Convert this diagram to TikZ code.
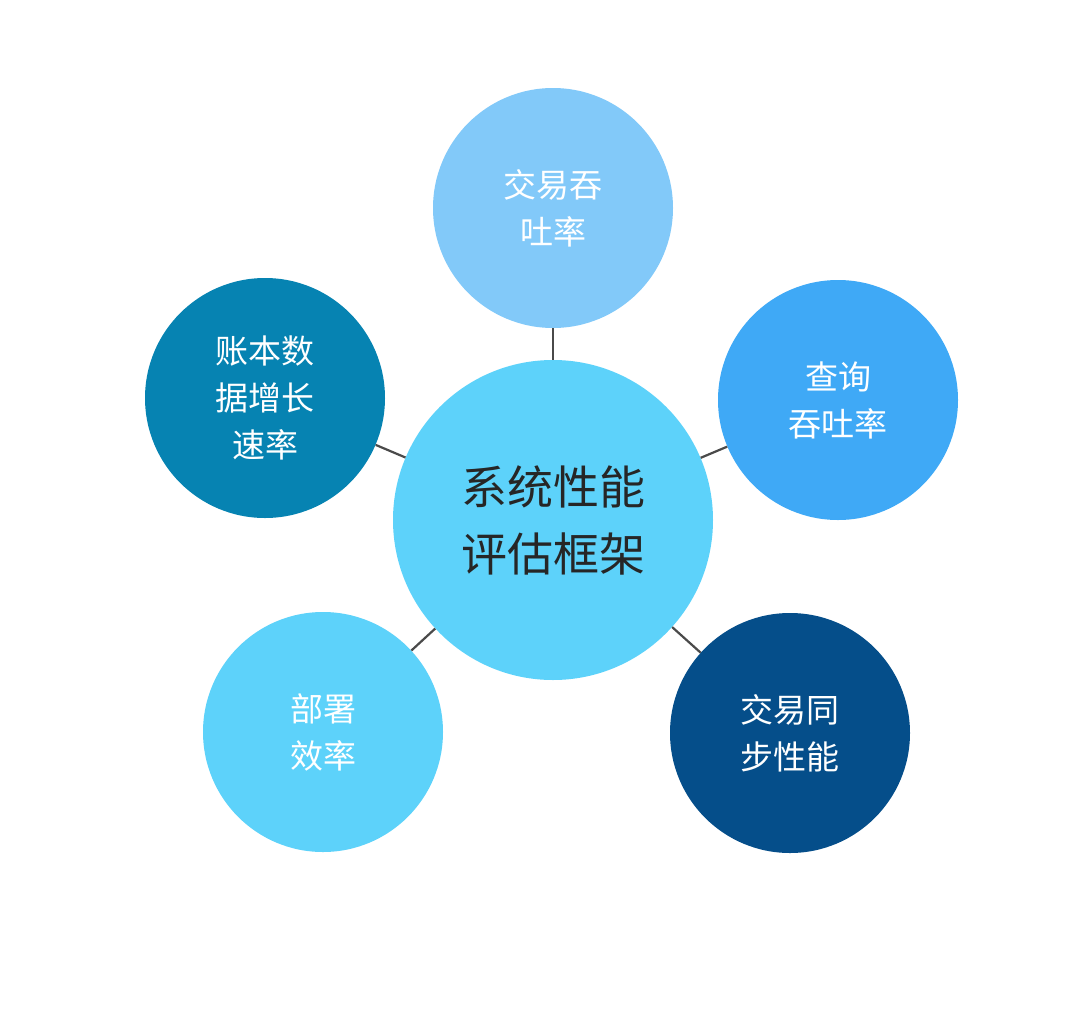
\documentclass[tikz,border=0pt]{standalone}
\usepackage{fontspec}
\newfontfamily\cjk{Noto Sans CJK SC}
\definecolor{cC}{HTML}{5DD2FA}
\definecolor{cT}{HTML}{82C9F9}
\definecolor{cR}{HTML}{3FA9F6}
\definecolor{cL}{HTML}{0683B2}
\definecolor{cBL}{HTML}{5DD2FA}
\definecolor{cBR}{HTML}{054E8A}
\definecolor{ln}{HTML}{4A4A4A}
\begin{document}
\begin{tikzpicture}[x=1pt,y=-1pt,
 sat/.style={circle,minimum size=240pt,inner sep=0pt,text=white,align=center,font=\cjk\fontsize{33}{47}\selectfont},
 ctr/.style={circle,minimum size=320pt,inner sep=0pt,fill=cC,text=black!85,align=center,font=\cjk\fontsize{46}{67}\selectfont},
 link/.style={draw=ln,line width=2.2pt}]
\useasboundingbox[fill=white] (0,0) rectangle (1080,1034);
\node[ctr] (c) at (553,520) {系统性能\\评估框架};
\node[sat,fill=cT] (t) at (553,208) {交易吞\\吐率};
\node[sat,fill=cR] (r) at (838,400) {查询\\吞吐率};
\node[sat,fill=cL] (l) at (265,398) {账本数\\据增长\\速率};
\node[sat,fill=cBL] (bl) at (323,732) {部署\\效率};
\node[sat,fill=cBR] (br) at (790,733) {交易同\\步性能};
\foreach \n in {t,r,l,bl,br} \draw[link] (c) -- (\n);
\end{tikzpicture}
\end{document}
